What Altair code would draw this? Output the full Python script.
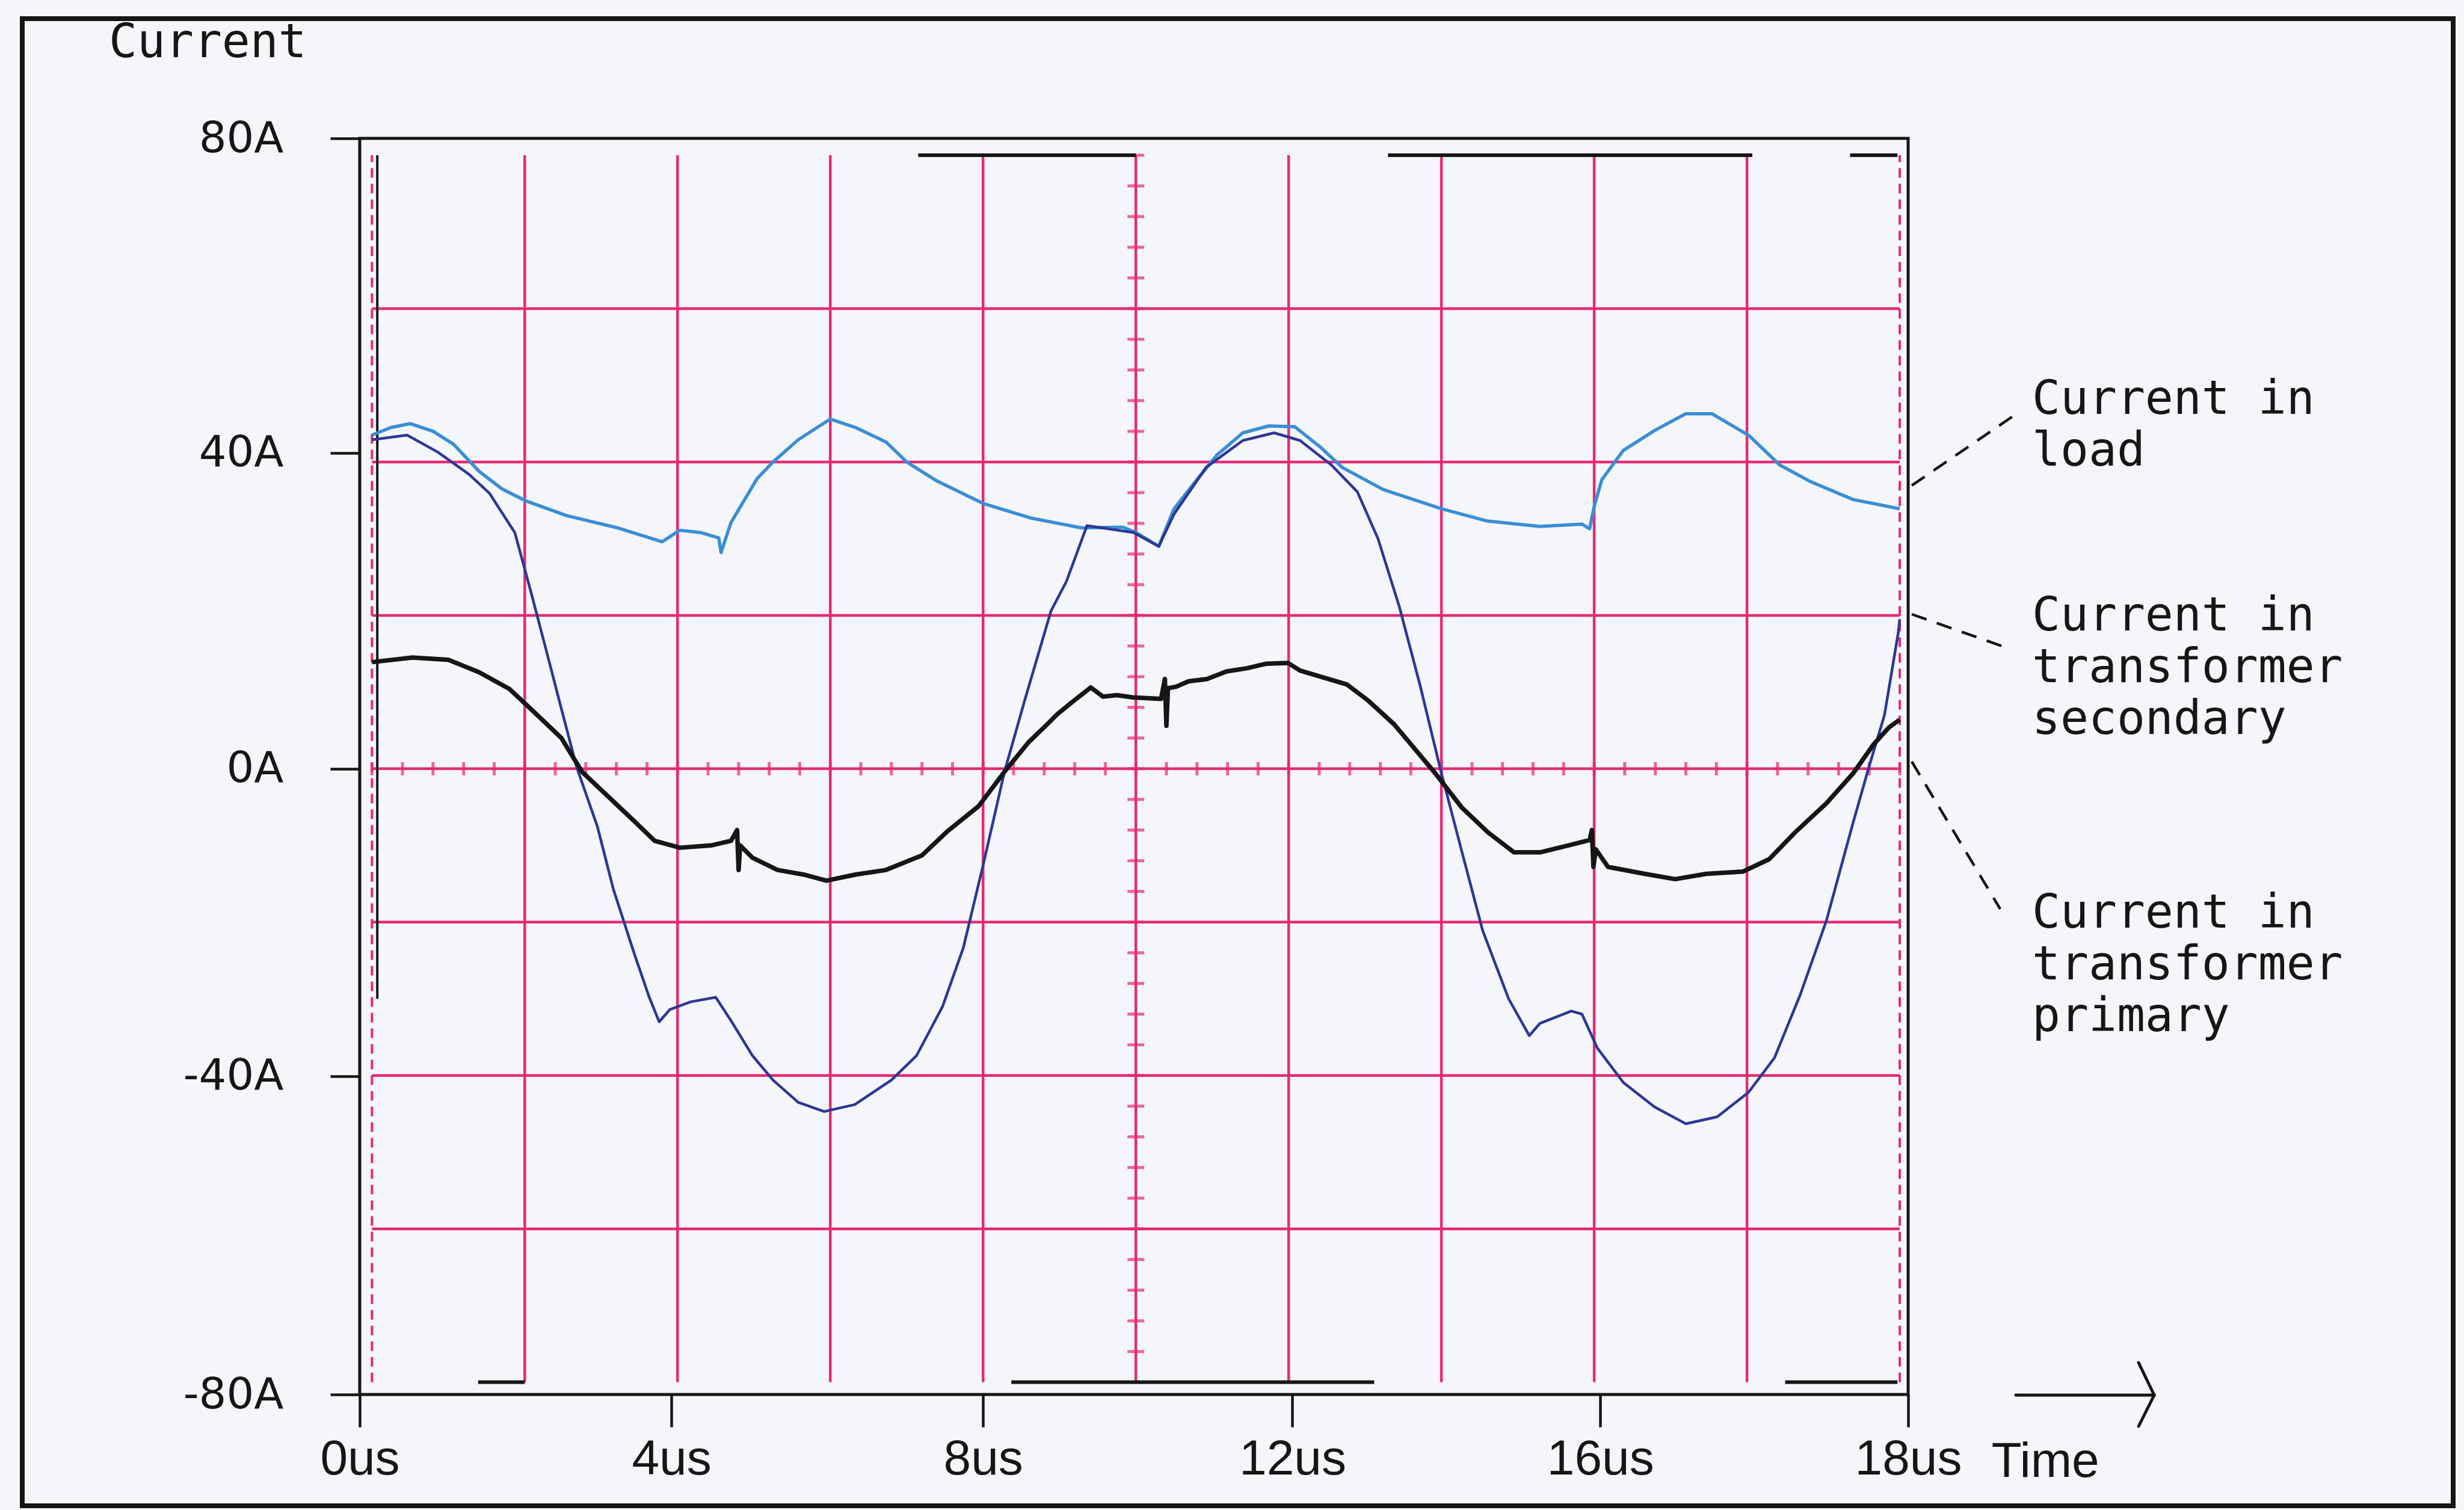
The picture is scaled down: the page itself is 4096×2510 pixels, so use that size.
import altair as alt
import pandas as pd

# ---------------- data ----------------
load_t = [0.0, 0.25, 0.5, 0.8, 1.07, 1.4, 1.7, 2.02, 2.55, 3.22, 3.8, 4.03, 4.3, 4.54, 4.57, 4.7,
          5.04, 5.25, 5.58, 6.0, 6.33, 6.73, 7.0, 7.4, 8.0, 8.62, 9.29, 9.83, 10.0, 10.3, 10.5,
          10.8, 11.06, 11.4, 11.74, 12.08, 12.42, 12.7, 13.24, 14.0, 14.6, 15.29, 15.84, 15.94,
          16.0, 16.1, 16.38, 16.79, 17.2, 17.54, 18.02, 18.43, 18.84, 19.39, 20.0]
load_i = [43.5, 44.5, 45.0, 44.0, 42.3, 38.8, 36.5, 34.9, 33.0, 31.4, 29.6, 31.1, 30.8, 30.1, 28.2, 32.1,
          37.8, 40.0, 42.9, 45.6, 44.5, 42.6, 40.0, 37.5, 34.6, 32.7, 31.4, 31.5, 30.8, 29.0, 33.9,
          37.7, 40.9, 43.8, 44.7, 44.6, 41.9, 39.3, 36.4, 33.9, 32.3, 31.6, 31.9, 31.3,
          34.2, 37.7, 41.5, 44.1, 46.3, 46.3, 43.5, 39.6, 37.4, 35.1, 33.9]

prim_t = [0.0, 0.46, 0.86, 1.27, 1.54, 1.87, 2.08, 2.28, 2.48, 2.68, 2.95, 3.16, 3.43, 3.63, 3.76,
          3.9, 4.17, 4.5, 4.71, 4.98, 5.25, 5.58, 5.92, 6.32, 6.8, 7.13, 7.47, 7.74, 8.0, 8.28,
          8.55, 8.89, 9.09, 9.36, 9.56, 9.97, 10.3, 10.5, 10.92, 11.4, 11.81, 12.15, 12.56, 12.9,
          13.17, 13.45, 13.72, 14.0, 14.27, 14.54, 14.88, 15.15, 15.29, 15.7, 15.84, 16.04, 16.38,
          16.79, 17.2, 17.61, 18.02, 18.36, 18.7, 19.04, 19.39, 19.59, 19.8, 19.98, 20.0]
prim_i = [42.9, 43.5, 41.3, 38.4, 35.9, 30.8, 23.1, 15.5, 7.8, 0.2, -7.5, -15.7, -24.0, -29.8, -33.0,
          -31.4, -30.4, -29.8, -33.0, -37.4, -40.6, -43.5, -44.7, -43.8, -40.6, -37.4, -31.0, -23.4, -12.6, -0.4,
          9.1, 20.6, 24.4, 31.7, 31.4, 30.8, 29.0, 33.2, 39.3, 42.8, 43.8, 42.8, 39.6, 36.1,
          30.0, 21.1, 10.9, -0.6, -10.9, -21.1, -30.0, -34.8, -33.2, -31.6, -32.0, -36.4, -40.9,
          -44.1, -46.3, -45.4, -42.2, -37.7, -29.4, -19.8, -7.0, 0.0, 7.0, 17.7, 19.5]

sec_t = [0.0, 0.53, 1.0, 1.4, 1.8, 2.08, 2.48, 2.75, 3.09, 3.43, 3.7, 4.03, 4.44, 4.7, 4.78, 4.8, 4.82,
         4.98, 5.31, 5.65, 5.95, 6.33, 6.73, 7.2, 7.54, 7.94, 8.28, 8.6, 8.84, 8.97, 9.18, 9.41,
         9.57, 9.75, 9.96, 10.33, 10.38, 10.4, 10.42, 10.53, 10.69, 10.93, 11.19, 11.45, 11.71,
         11.99, 12.15, 12.42, 12.76, 13.04, 13.38, 13.65, 13.92, 14.27, 14.61, 14.95, 15.29, 15.7,
         15.94, 15.97, 15.99, 16.02, 16.18, 16.66, 17.06, 17.47, 17.95, 18.29, 18.63, 19.04, 19.39,
         19.66, 19.86, 20.0]
sec_i = [13.9, 14.5, 14.2, 12.6, 10.4, 7.8, 4.0, -0.4, -3.6, -6.8, -9.4, -10.3, -10.0, -9.4, -8.0, -13.2, -10.0,
         -11.6, -13.2, -13.8, -14.6, -13.8, -13.2, -11.3, -8.1, -4.9, -0.4, 3.5, 5.8, 7.1, 8.8, 10.6,
         9.4, 9.6, 9.3, 9.1, 11.7, 5.6, 10.5, 10.7, 11.4, 11.7, 12.7, 13.1, 13.7,
         13.8, 12.8, 12.0, 11.0, 8.9, 5.8, 2.6, -0.6, -5.1, -8.3, -10.9, -10.9, -9.9,
         -9.3, -8.0, -12.8, -10.5, -12.8, -13.7, -14.4, -13.7, -13.4, -11.8, -8.3, -4.5, -0.6,
         3.2, 5.4, 6.4]

# off-screen trace marks along the top and bottom graticule edges (us)
top_clip_start = [7.15, 13.3, 19.35]
top_clip_end = [10.0, 18.07, 19.97]
bot_clip_start = [1.39, 8.37, 18.5]
bot_clip_end = [2.0, 13.12, 19.97]

# graticule (2 us / div, 20 A / div)
grid_t_inner = [2, 4, 6, 8, 10, 12, 14, 16, 18]
grid_t_edges = [0, 20]
grid_i = [-60, -40, -20, 0, 20, 40, 60]
minor_t = [round(0.4 * k, 2) for k in range(51)]
minor_i = [4 * k for k in range(-20, 21)]

# hand-drawn axis labelling
x_tick_values = [-0.16, 3.92, 8.0, 12.05, 16.08, 20.11]
x_tick_labels = ["0us", "4us", "8us", "12us", "16us", "18us"]
y_tick_values = [82.2, 41.2, 0.0, -40.1, -81.6]
y_tick_labels = ["80A", "40A", "0A", "-40A", "-80A"]

series_names = ["Current in load", "Current in transformer primary", "Current in transformer secondary"]
series_colors = ["#3b8ed4", "#2d3794", "#161616"]

# ---------------- helpers ----------------
def label_expr(values, labels):
    pairs = sorted(zip(values, labels))
    expr = "'" + pairs[-1][1] + "'"
    for i in range(len(pairs) - 2, -1, -1):
        mid = (pairs[i][0] + pairs[i + 1][0]) / 2
        expr = f"datum.value < {mid} ? '{pairs[i][1]}' : ({expr})"
    return expr

INK = "#161616"
PINK = "#e62a74"

xscale = alt.Scale(domain=[x_tick_values[0], x_tick_values[-1]], nice=False, zero=False)
yscale = alt.Scale(domain=[y_tick_values[-1], y_tick_values[0]], nice=False, zero=False)

xaxis = alt.Axis(values=x_tick_values, labelExpr=label_expr(x_tick_values, x_tick_labels), title=None,
                 grid=False, domain=False, tickSize=54, tickWidth=4.5, tickColor=INK,
                 labelFont="Liberation Sans", labelFontSize=82, labelColor=INK, labelPadding=78,
                 labelBaseline="alphabetic", labelFlush=False, labelOverlap=False, labelBound=False)
yaxis = alt.Axis(values=y_tick_values, labelExpr=label_expr(y_tick_values, y_tick_labels), title=None,
                 grid=False, domain=False, tickSize=49, tickWidth=4.5, tickColor=INK,
                 labelFont="DejaVu Sans", labelFontSize=72, labelColor=INK, labelPadding=78,
                 labelBaseline="middle", labelFlush=False, labelOverlap=False, labelBound=False)

def X(f):
    return alt.X(f, type="quantitative", scale=xscale, axis=xaxis)

def Y(f):
    return alt.Y(f, type="quantitative", scale=yscale, axis=yaxis)

# ---------------- tables ----------------
vgrid = pd.DataFrame({"t": grid_t_inner, "lo": [-80] * len(grid_t_inner), "hi": [80] * len(grid_t_inner)})
vedge = pd.DataFrame({"t": grid_t_edges, "lo": [-80] * 2, "hi": [80] * 2})
hgrid = pd.DataFrame({"i": grid_i, "t0": [0] * len(grid_i), "t1": [20] * len(grid_i)})
minor_h = pd.DataFrame({"t": minor_t, "i": [0] * len(minor_t)})
minor_v = pd.DataFrame({"t": [10] * len(minor_i), "i": minor_i})
clips = pd.DataFrame({"t0": top_clip_start + bot_clip_start, "t1": top_clip_end + bot_clip_end,
                      "i": [80] * len(top_clip_start) + [-80] * len(bot_clip_start)})
retrace = pd.DataFrame({"t": [0.07], "lo": [-30], "hi": [80]})

traces = pd.concat([
    pd.DataFrame({"t": load_t, "i": load_i, "s": series_names[0]}),
    pd.DataFrame({"t": prim_t, "i": prim_i, "s": series_names[1]}),
    pd.DataFrame({"t": sec_t, "i": sec_i, "s": series_names[2]}),
], ignore_index=True)

one = pd.DataFrame({"k": [0]})

# ---------------- layers ----------------
layers = []
layers.append(alt.Chart(vgrid).mark_rule(color=PINK, strokeWidth=4.5).encode(
    x=X("t"), y=Y("lo"), y2="hi"))
layers.append(alt.Chart(vedge).mark_rule(color=PINK, strokeWidth=4, strokeDash=[16, 10]).encode(
    x=X("t"), y=Y("lo"), y2="hi"))
layers.append(alt.Chart(hgrid).mark_rule(color=PINK, strokeWidth=4.5).encode(
    x=X("t0"), x2="t1", y=Y("i")))
layers.append(alt.Chart(minor_h).mark_tick(color=PINK, orient="vertical", size=22, thickness=5).encode(
    x=X("t"), y=Y("i")))
layers.append(alt.Chart(minor_v).mark_tick(color=PINK, orient="horizontal", size=28, thickness=5).encode(
    x=X("t"), y=Y("i")))
layers.append(alt.Chart(clips).mark_rule(color=INK, strokeWidth=6).encode(
    x=X("t0"), x2="t1", y=Y("i")))
layers.append(alt.Chart(retrace).mark_rule(color=INK, strokeWidth=4).encode(
    x=X("t"), y=Y("lo"), y2="hi"))

widths = [5.5, 4.5, 7.5]
for name, w in zip([series_names[0], series_names[1], series_names[2]], widths):
    layers.append(alt.Chart(traces[traces["s"] == name]).mark_line(strokeWidth=w, strokeJoin="round").encode(
        x=X("t"), y=Y("i"),
        color=alt.Color("s:N", scale=alt.Scale(domain=series_names, range=series_colors), legend=None)))

# ---------------- annotations (pixel positions relative to plot origin) ----------------
layers.append(alt.Chart(one).mark_rect(fillOpacity=0, stroke=INK, strokeWidth=8).encode(
    x=alt.value(-561), x2=alt.value(3480), y=alt.value(-199), y2=alt.value(2273)))

layers.append(alt.Chart(one).mark_text(font="DejaVu Sans Mono", fontSize=78, color=INK,
                                       align="left", baseline="alphabetic").encode(
    x=alt.value(-417), y=alt.value(-135), text=alt.value("Current")))

label_lines = [["Current in", "load"], ["Current in", "transformer", "secondary"],
               ["Current in", "transformer", "primary"]]
label_y = [458, 818, 1312]
for lines, yy in zip(label_lines, label_y):
    layers.append(alt.Chart(one).mark_text(font="DejaVu Sans Mono", fontSize=78, color=INK, align="left",
                                           baseline="alphabetic", lineHeight=86).encode(
        x=alt.value(2780), y=alt.value(yy), text=alt.value(lines)))

leaders = [((2580, 577), (2761, 453)), ((2580, 791), (2733, 845)), ((2580, 1036), (2727, 1281))]
for (x1, y1), (x2, y2) in leaders:
    layers.append(alt.Chart(one).mark_rule(color=INK, strokeWidth=4.5, strokeDash=[26, 18]).encode(
        x=alt.value(x1), y=alt.value(y1), x2=alt.value(x2), y2=alt.value(y2)))

layers.append(alt.Chart(one).mark_text(font="Liberation Sans", fontSize=82, color=INK,
                                       align="center", baseline="alphabetic").encode(
    x=alt.value(2802), y=alt.value(2225), text=alt.value("Time")))

arrow = [((2753, 2089), (2983, 2089)), ((2957, 2035), (2983, 2089)), ((2983, 2089), (2957, 2141))]
for (x1, y1), (x2, y2) in arrow:
    layers.append(alt.Chart(one).mark_rule(color=INK, strokeWidth=5, strokeCap="round").encode(
        x=alt.value(x1), y=alt.value(y1), x2=alt.value(x2), y2=alt.value(y2)))

chart = alt.layer(*layers).properties(
    width=2574, height=2088,
    padding={"left": 598, "top": 230, "right": 924, "bottom": 192},
    autosize="none",
    background="#f5f6f9",
).configure_view(stroke=INK, strokeWidth=5)

chart.save("out.html", embed_options={"renderer": "svg", "actions": False})
